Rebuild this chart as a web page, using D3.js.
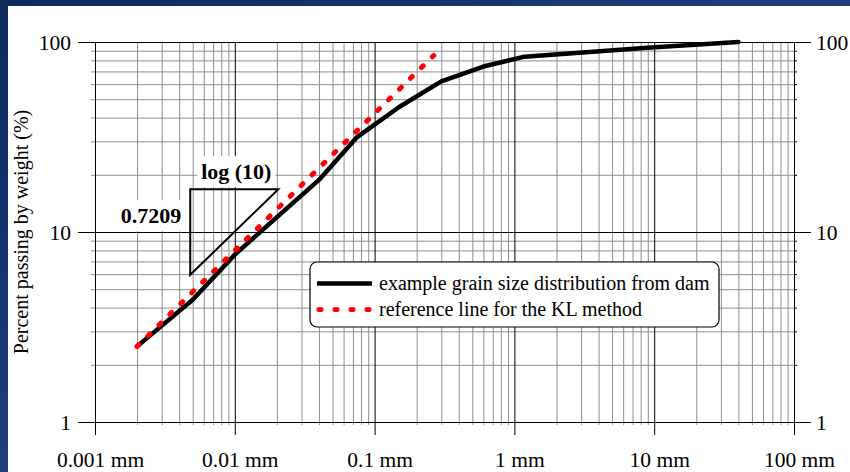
<!DOCTYPE html>
<html>
<head>
<meta charset="utf-8">
<script src="https://cdn.jsdelivr.net/npm/d3@7"></script>
<style>
  html, body { margin: 0; padding: 0; background: #fff; overflow: hidden; }
  svg { display: block; overflow: hidden; }
</style>
</head>
<body>
<script>
// ---------- data ----------
const xMajorTicks = [0.001, 0.01, 0.1, 1, 10, 100];
const xTickLabels = ["0.001 mm", "0.01 mm", "0.1 mm", "1 mm", "10 mm", "100 mm"];
const yTicks = [1, 10, 100];
const yTickLabels = ["1", "10", "100"];

// example grain size distribution from dam
const sizeMm     = [0.002, 0.005, 0.01, 0.04, 0.075, 0.15, 0.3, 0.6, 1.18, 9.5, 40];
const passingPct = [2.5,   4.4,   7.6,  18.8, 31.6,  45.5, 62,  74.3, 83.7, 93.6, 100];

// reference line for the KL method
const refSizeMm     = [0.002, 0.265];
const refPassingPct = [2.5, 85];

// slope triangle
const triSizeMm     = [0.0048, 0.0048, 0.0205];
const triPassingPct = [5.95, 16.8, 16.8];
const slopeLabel = "0.7209";
const runLabel = "log (10)";

const seriesNames = ["example grain size distribution from dam", "reference line for the KL method"];
const yTitle = "Percent passing by weight (%)";

// ---------- layout ----------
const W = 850, H = 472;
const L = 95, R = 794, T = 42, B = 422;
const FONT = "'Liberation Serif', 'Times New Roman', serif";

const svg = d3.select("body").append("svg").attr("width", W).attr("height", H);

const defs = svg.append("defs");
const grad = defs.append("linearGradient").attr("id", "bg")
  .attr("x1", "0").attr("y1", "0").attr("x2", "1").attr("y2", "1");
grad.append("stop").attr("offset", "0").attr("stop-color", "#0c2a5c");
grad.append("stop").attr("offset", "1").attr("stop-color", "#33509a");

svg.append("rect").attr("width", W).attr("height", H).attr("fill", "url(#bg)");
svg.append("rect").attr("x", 8).attr("y", 6).attr("width", W).attr("height", H).attr("fill", "#fff");

const x = d3.scaleLog().domain([0.001, 100]).range([L, R]);
const y = d3.scaleLog().domain([1, 100]).range([B, T]);

const minorX = [];
for (let e = -3; e < 2; e++) for (let k = 2; k <= 9; k++) minorX.push(+(k * Math.pow(10, e)).toPrecision(6));
const minorY = [];
for (let e = 0; e < 2; e++) for (let k = 2; k <= 9; k++) minorY.push(+(k * Math.pow(10, e)).toPrecision(6));

const MINOR = "#8f8f8f";
const PH = B - T, PW = R - L;

// minor vertical grid + bottom small ticks
const gxm = svg.append("g").attr("transform", `translate(0,${B})`)
  .call(d3.axisBottom(x).tickValues(minorX).tickSize(3).tickFormat(""));
gxm.select(".domain").remove();
gxm.selectAll(".tick line").attr("y1", -PH).attr("stroke", MINOR);

// minor horizontal grid + left small ticks
const gym = svg.append("g").attr("transform", `translate(${L},0)`)
  .call(d3.axisLeft(y).tickValues(minorY).tickSize(4).tickFormat(""));
gym.select(".domain").remove();
gym.selectAll(".tick line").attr("x1", PW).attr("stroke", MINOR);

// right small ticks
const gyr = svg.append("g").attr("transform", `translate(${R},0)`)
  .call(d3.axisRight(y).tickValues(minorY).tickSize(3).tickFormat(""));
gyr.select(".domain").remove();
gyr.selectAll(".tick line").attr("stroke", "#000");

// major vertical grid + labels
const gx = svg.append("g").attr("transform", `translate(0,${B})`)
  .call(d3.axisBottom(x).tickValues(xMajorTicks).tickSize(13).tickFormat((d, i) => xTickLabels[i]));
gx.select(".domain").remove();
gx.selectAll(".tick line").attr("y1", -PH).attr("stroke", "#000");
gx.attr("font-family", FONT).attr("font-size", 21.5);
gx.selectAll(".tick text").attr("y", 45).attr("dy", 0).attr("dx", 5);

// major horizontal grid + left labels
const gy = svg.append("g").attr("transform", `translate(${L},0)`)
  .call(d3.axisLeft(y).tickValues(yTicks).tickSize(17).tickFormat((d, i) => yTickLabels[i]));
gy.select(".domain").remove();
gy.selectAll(".tick line").attr("x1", PW).attr("stroke", "#000");
gy.attr("font-family", FONT).attr("font-size", 21.5);
gy.selectAll(".tick text").attr("x", -24).attr("dy", "0.33em");

// right labels
const gy2 = svg.append("g").attr("transform", `translate(${R},0)`)
  .call(d3.axisRight(y).tickValues(yTicks).tickSize(17).tickFormat((d, i) => yTickLabels[i]));
gy2.select(".domain").remove();
gy2.selectAll(".tick line").attr("stroke", "#000");
gy2.attr("font-family", FONT).attr("font-size", 21.5);
gy2.selectAll(".tick text").attr("x", 22).attr("dy", "0.33em");

// y title
svg.append("text")
  .attr("transform", `translate(28,${(T + B) / 2}) rotate(-90)`)
  .attr("text-anchor", "middle")
  .attr("font-family", FONT).attr("font-size", 20)
  .text(yTitle);

// annotation labels with white backgrounds
function boxedLabel(txt, px, py, anchor) {
  const g = svg.append("g");
  const t = g.append("text").attr("x", px).attr("y", py)
    .attr("text-anchor", anchor)
    .attr("font-family", FONT).attr("font-size", 22).attr("font-weight", "bold")
    .text(txt);
  const bb = t.node().getBBox();
  g.insert("rect", "text")
    .attr("x", bb.x - 4).attr("y", bb.y - 3)
    .attr("width", bb.width + 8).attr("height", bb.height + 6)
    .attr("fill", "#fff");
}
const triLeft = x(triSizeMm[0]), triTop = y(triPassingPct[1]), triRight = x(triSizeMm[2]);
boxedLabel(runLabel, (triLeft + triRight) / 2 + 2, triTop - 10, "middle");
boxedLabel(slopeLabel, triLeft - 9, triTop + 34, "end");

// triangle
svg.append("path")
  .datum(triSizeMm.map((d, i) => [d, triPassingPct[i]]))
  .attr("d", d3.line().x(d => x(d[0])).y(d => y(d[1])).curve(d3.curveLinearClosed))
  .attr("fill", "none").attr("stroke", "#000").attr("stroke-width", 2);

// lines
const line = d3.line().x(d => x(d[0])).y(d => y(d[1]));
svg.append("path")
  .datum(sizeMm.map((d, i) => [d, passingPct[i]]))
  .attr("d", line)
  .attr("fill", "none").attr("stroke", "#000").attr("stroke-width", 4.5)
  .attr("stroke-linejoin", "round").attr("stroke-linecap", "round");

const refPath = svg.append("path")
  .datum(refSizeMm.map((d, i) => [d, refPassingPct[i]]))
  .attr("d", line)
  .attr("fill", "none").attr("stroke", "#ff0000").attr("stroke-width", 5)
  .attr("stroke-linecap", "round");
{
  const len = refPath.node().getTotalLength();
  const n = Math.round((len - 2) / 15.5);
  const period = (len - 2) / n;
  refPath.attr("stroke-dasharray", `2.5,${(period - 2.5).toFixed(3)}`);
}

// legend
const lg = svg.append("g");
lg.append("rect").attr("x", 310).attr("y", 262).attr("width", 409).attr("height", 65)
  .attr("rx", 7).attr("fill", "#fff").attr("stroke", "#000").attr("stroke-width", 1.2);
lg.append("line").attr("x1", 317).attr("x2", 372).attr("y1", 283.5).attr("y2", 283.5)
  .attr("stroke", "#000").attr("stroke-width", 4.5);
lg.append("line").attr("x1", 319).attr("x2", 372).attr("y1", 309.5).attr("y2", 309.5)
  .attr("stroke", "#ff0000").attr("stroke-width", 5)
  .attr("stroke-dasharray", "2,14").attr("stroke-linecap", "round");
lg.selectAll("text.leg").data(seriesNames).enter().append("text")
  .attr("class", "leg")
  .attr("x", 379).attr("y", (d, i) => 290 + i * 26)
  .attr("font-family", FONT).attr("font-size", 20)
  .text(d => d);
</script>
</body>
</html>
